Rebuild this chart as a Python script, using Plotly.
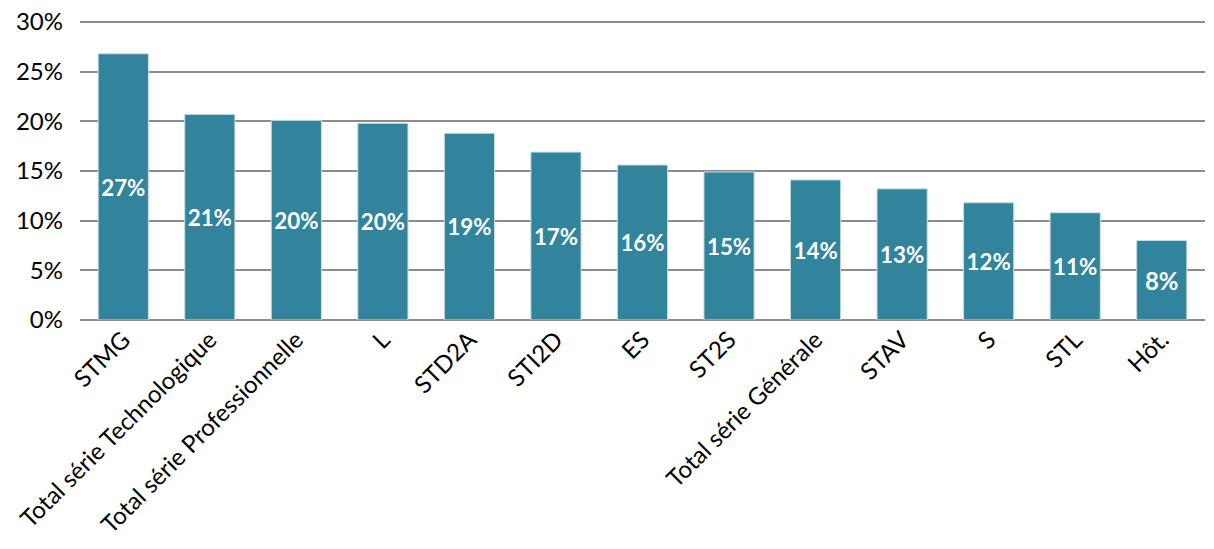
import plotly.graph_objects as go

categories = ['STMG', 'Total série Technologique', 'Total série Professionnelle', 'L',
              'STD2A', 'STI2D', 'ES', 'ST2S', 'Total série Générale', 'STAV', 'S', 'STL', 'Hôt.']
values = [26.8, 20.7, 20.1, 19.8, 18.8, 16.9, 15.6, 14.9, 14.1, 13.2, 11.8, 10.8, 8.0]
y_ticks = [0, 5, 10, 15, 20, 25, 30]

bar_color = '#31849b'

trace = go.Bar(
    x=categories,
    y=values,
    marker=dict(color=bar_color, line=dict(color='#c9dde3', width=1)),
    width=0.58,
    texttemplate='%{y:.0f}%',
    textposition='inside',
    insidetextanchor='middle',
    textangle=0,
    textfont=dict(family='Lato', size=24, color='white', weight='bold'),
    hoverinfo='x+y'
)

# page body has an 8px margin, so offsets are shifted accordingly
layout = go.Layout(
    width=1214,
    height=549,
    margin=dict(l=72, r=17, t=11, b=237),
    plot_bgcolor='white',
    paper_bgcolor='white',
    showlegend=False,
    font=dict(family='Lato', color='black'),
    xaxis=dict(
        tickangle=-45,
        tickfont=dict(size=24),
        showgrid=False,
        ticks='',
        showline=False,
        automargin=False
    ),
    yaxis=dict(
        # a bit of headroom so the 30% gridline is not clipped at the edge
        range=[0, 30.3],
        tickvals=y_ticks,
        ticktext=['{0}%'.format(v) for v in y_ticks],
        tickfont=dict(size=24),
        ticklabeloverflow='allow',
        showgrid=True,
        gridcolor='#8c8c8c',
        gridwidth=2,
        zeroline=True,
        zerolinecolor='#8c8c8c',
        zerolinewidth=2,
        ticks='',
        ticklabelstandoff=16,
        automargin=False
    )
)

fig = go.Figure(data=[trace], layout=layout)
fig.write_html('out.html')
